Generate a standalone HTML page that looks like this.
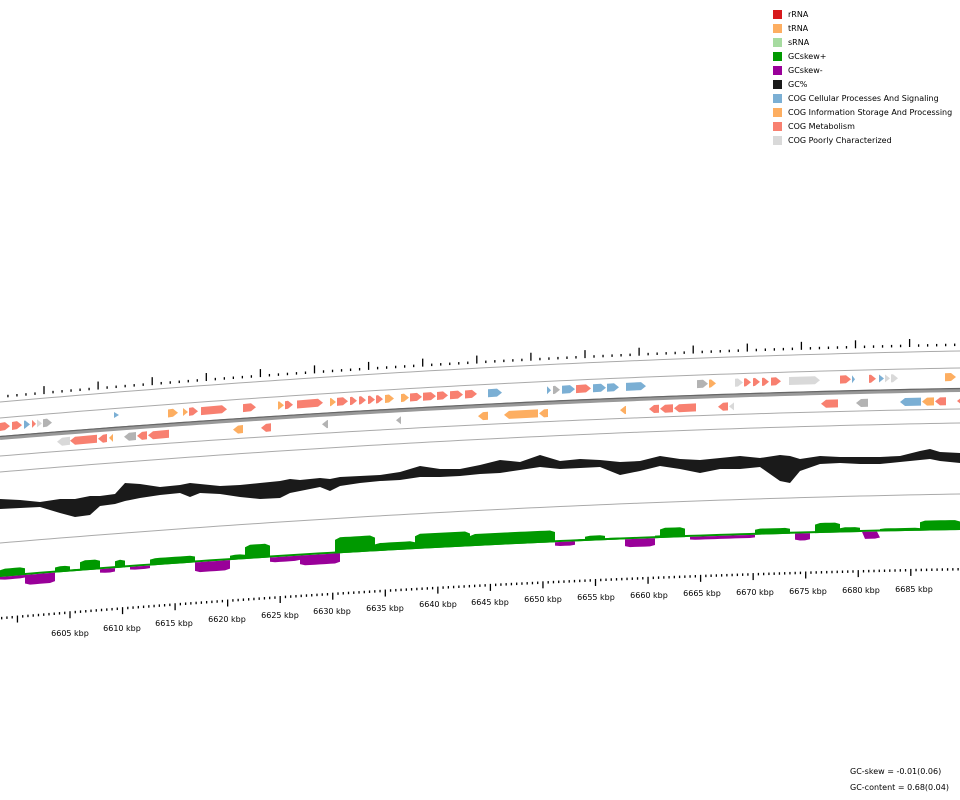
<!DOCTYPE html>
<html><head><meta charset="utf-8"><style>
html,body{margin:0;padding:0;background:#fff;width:960px;height:800px;overflow:hidden}
svg{display:block}
text{font-family:"DejaVu Sans","Liberation Sans",sans-serif;fill:#000}
</style></head><body>
<svg id="s" width="960" height="800" viewBox="0 0 960 800" xmlns="http://www.w3.org/2000/svg">
<g id="g"></g>
<g font-size="8">
<rect x="773" y="10" width="9" height="9" fill="#d7191c"/><text x="788" y="17">rRNA</text>
<rect x="773" y="24" width="9" height="9" fill="#fdae61"/><text x="788" y="31">tRNA</text>
<rect x="773" y="38" width="9" height="9" fill="#a6dba0"/><text x="788" y="45">sRNA</text>
<rect x="773" y="52" width="9" height="9" fill="#009900"/><text x="788" y="59">GCskew+</text>
<rect x="773" y="66" width="9" height="9" fill="#990099"/><text x="788" y="73">GCskew-</text>
<rect x="773" y="80" width="9" height="9" fill="#1a1a1a"/><text x="788" y="87">GC%</text>
<rect x="773" y="94" width="9" height="9" fill="#7bafd4"/><text x="788" y="101">COG Cellular Processes And Signaling</text>
<rect x="773" y="108" width="9" height="9" fill="#fdae61"/><text x="788" y="115">COG Information Storage And Processing</text>
<rect x="773" y="122" width="9" height="9" fill="#f88070"/><text x="788" y="129">COG Metabolism</text>
<rect x="773" y="136" width="9" height="9" fill="#d9d9d9"/><text x="788" y="143">COG Poorly Characterized</text>
</g>
<g font-size="8" text-anchor="middle">
<text x="70" y="636">6605 kbp</text><text x="122" y="631">6610 kbp</text><text x="174" y="626">6615 kbp</text>
<text x="227" y="622">6620 kbp</text><text x="280" y="618">6625 kbp</text><text x="332" y="614">6630 kbp</text>
<text x="385" y="611">6635 kbp</text><text x="438" y="607">6640 kbp</text><text x="490" y="605">6645 kbp</text>
<text x="543" y="602">6650 kbp</text><text x="596" y="600">6655 kbp</text><text x="649" y="598">6660 kbp</text>
<text x="702" y="596">6665 kbp</text><text x="755" y="595">6670 kbp</text><text x="808" y="594">6675 kbp</text>
<text x="861" y="593">6680 kbp</text><text x="914" y="592">6685 kbp</text>
</g>
<g font-size="8"><text x="850" y="774">GC-skew = -0.01(0.06)</text><text x="850" y="790">GC-content = 0.68(0.04)</text></g>
</svg>
<script>
var g=document.getElementById('g'),NS='http://www.w3.org/2000/svg';
function cy(y0,d,x){return y0-d/52*(0.09*x-3.73e-5*x*x);}
function el(n,a){var e=document.createElementNS(NS,n);for(var k in a)e.setAttribute(k,a[k]);g.appendChild(e);return e;}
function curve(y0,d,st,w){var p='';for(var x=0;x<=960;x+=10)p+=(x?'L':'M')+x+','+cy(y0,d,x).toFixed(2);el('path',{d:p,fill:'none',stroke:st,'stroke-width':w});}
curve(402,51,'#aaa',1);curve(418,50,'#aaa',1);curve(438,48,'#999',4);curve(436.5,48,'#666',1.2);
curve(456,47,'#aaa',1);curve(472,49,'#aaa',1);curve(543,49,'#aaa',1);
var st=54.1/6;for(var i=-5;i<110;i++){var x=44+i*st;if(x<0||x>960)continue;var b=cy(398,52,x);var maj=(i%6===0);
el('line',{x1:x,x2:x,y1:b,y2:b-(maj?8:2.5),stroke:'#000','stroke-width':1.3});}
st=52.55/10;for(var i=-14;i<190;i++){var x=70+i*st;if(x<0||x>960)continue;var b=cy(617,49,x);var maj=(i%10===0);
el('line',{x1:x,x2:x,y1:b,y2:b+(maj?7:2.5),stroke:'#000','stroke-width':1.3});}
var C={r:'#f88070',b:'#7bafd4',o:'#fdae61',l:'#d9d9d9',g:'#b3b3b3'};
function gene(x0,x1,c,dir){var y0=dir>0?427:446,d=dir>0?50:45;var ya=cy(y0,d,x0),yb=cy(y0,d,x1),h=4,t=Math.min(5,x1-x0);var p;
if(dir>0)p=[[x0,ya-h],[x1-t,yb-h],[x1,yb],[x1-t,yb+h],[x0,ya+h]];else p=[[x1,yb-h],[x0+t,ya-h],[x0,ya],[x0+t,ya+h],[x1,yb+h]];
el('polygon',{points:p.map(function(q){return q[0].toFixed(1)+','+q[1].toFixed(1)}).join(' '),fill:C[c]});}
var F=[[0,10,'r'],[12,22,'r'],[24,30,'b'],[32,36,'r'],[37,42,'l'],[43,52,'g'],[168,178,'o'],[183,188,'o'],[189,198,'r'],[201,227,'r'],[243,256,'r'],[278,284,'o'],[285,293,'r'],[297,323,'r'],[330,336,'o'],[337,348,'r'],[350,357,'r'],[359,366,'r'],[368,375,'r'],[376,383,'r'],[385,394,'o'],[401,409,'o'],[410,422,'r'],[423,436,'r'],[437,448,'r'],[450,463,'r'],[465,477,'r'],[488,502,'b'],[547,551,'b'],[553,560,'g'],[562,575,'b'],[576,591,'r'],[593,606,'b'],[607,619,'b'],[626,646,'b'],[697,708,'g'],[709,716,'o'],[735,743,'l'],[744,751,'r'],[753,760,'r'],[762,769,'r'],[771,781,'r'],[789,820,'l'],[840,851,'r'],[852,855,'b'],[869,876,'r'],[879,884,'b'],[885,890,'l'],[891,898,'l'],[945,956,'o']];
F.forEach(function(a){gene(a[0],a[1],a[2],1);});
el('polygon',{points:'114,412 119,415 114,418',fill:C.b});
var R=[[57,70,'l'],[70,97,'r'],[98,107,'r'],[109,113,'o'],[124,136,'g'],[137,147,'r'],[148,169,'r'],[233,243,'o'],[261,271,'r'],[322,328,'g'],[396,401,'g'],[478,488,'o'],[504,538,'o'],[539,548,'o'],[620,626,'o'],[649,659,'r'],[660,673,'r'],[674,696,'r'],[718,728,'r'],[729,734,'l'],[821,838,'r'],[856,868,'g'],[900,921,'b'],[922,934,'o'],[935,946,'r'],[957,964,'r']];
R.forEach(function(a){gene(a[0],a[1],a[2],-1);});
var GC=[[0,500,508],[20,501,507],[40,503,506],[60,500,512],[75,500,516],[90,497,514],[100,497,505],[115,495,503],[125,484,500],[140,485,497],[160,488,494],[180,486,492],[190,484,496],[200,485,492],[220,487,493],[240,486,496],[260,484,498],[280,482,497],[290,480,492],[300,481,490],[320,479,486],[330,480,490],[340,478,485],[360,477,482],[380,476,480],[400,473,479],[420,467,476],[440,470,476],[460,470,475],[480,466,473],[500,461,472],[520,463,469],[540,456,466],[560,462,468],[580,460,467],[600,461,466],[620,463,474],[640,462,470],[660,457,465],[680,460,468],[700,461,472],[720,459,468],[740,457,468],[760,459,466],[780,456,480],[790,457,482],[800,460,470],[820,457,463],[840,458,462],[860,458,463],[880,458,463],[900,457,461],[920,452,459],[930,450,458],[940,453,460],[960,454,462]];
var p=[];GC.forEach(function(a){p.push(a[0]+','+(a[1]-1));});for(var i=GC.length-1;i>=0;i--)p.push(GC[i][0]+','+(GC[i][2]+1));
el('polygon',{points:p.join(' '),fill:'#1a1a1a'});
curve(576,47,'#009900',2);
var S=[[0,25,8],[0,25,-3],[25,55,-10],[55,70,6],[70,80,2],[80,100,10],[100,115,-4],[115,125,8],[130,150,-3],[150,195,7],[195,230,-10],[230,245,5],[245,270,14],[270,300,-5],[300,340,-10],[335,375,16],[375,415,8],[415,470,15],[470,555,12],[555,575,-4],[575,585,2],[585,605,5],[605,625,2],[625,655,-8],[655,660,3],[660,685,10],[690,755,-3],[755,790,6],[795,810,-7],[815,840,10],[840,860,5],[862,880,-7],[880,920,3],[920,960,10]];
S.forEach(function(a){var x0=a[0],x1=a[1],h=a[2],pts=[];
for(var x=x0;x<=x1;x+=5){pts.push(x+','+cy(577,47,x).toFixed(1));}
for(var x=x1;x>=x0;x-=5){var hh=h*(x==x0||x==x1?0.85:1);pts.push(x+','+(cy(577,47,x)-hh).toFixed(1));}
el('polygon',{points:pts.join(' '),fill:h>0?'#009900':'#990099'});});
</script>
</body></html>
